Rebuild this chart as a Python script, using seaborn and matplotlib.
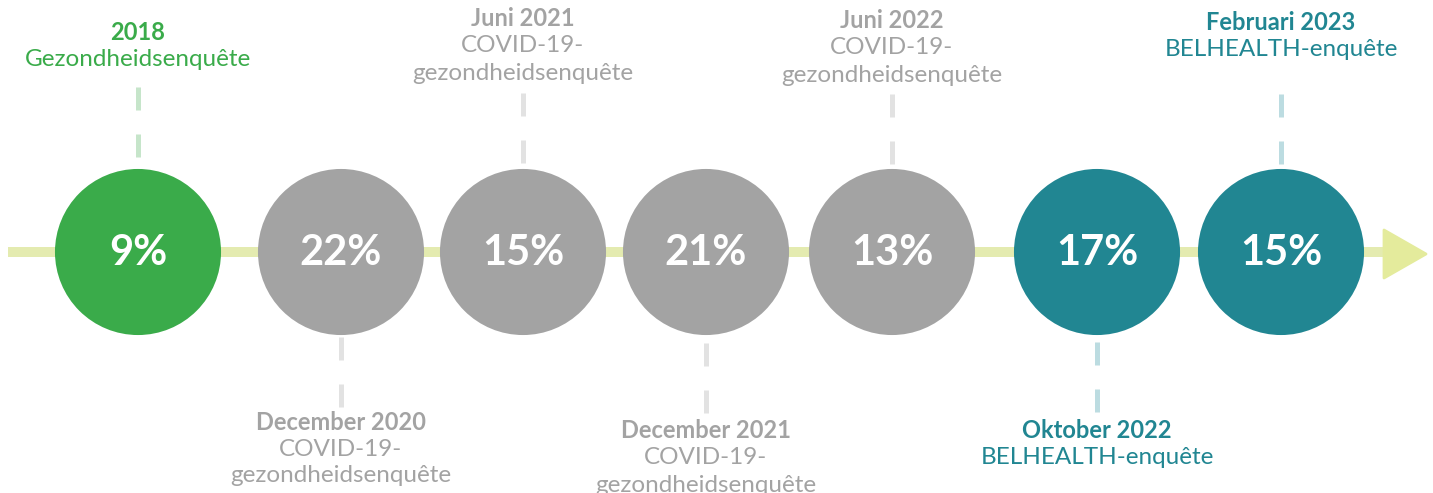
import pandas as pd
import numpy as np
import seaborn as sns
import matplotlib.pyplot as plt
from matplotlib.patches import Polygon

# gegevens
datums = ["2018", "December 2020", "Juni 2021", "December 2021", "Juni 2022", "Oktober 2022", "Februari 2023"]
enquetes = ["Gezondheidsenquête",
            "COVID-19-\ngezondheidsenquête",
            "COVID-19-\ngezondheidsenquête",
            "COVID-19-\ngezondheidsenquête",
            "COVID-19-\ngezondheidsenquête",
            "BELHEALTH-enquête",
            "BELHEALTH-enquête"]
percentages = [9, 22, 15, 21, 13, 17, 15]
groepen = ["HIS", "COVID", "COVID", "COVID", "COVID", "BELHEALTH", "BELHEALTH"]

# layout (pixels)
x_pos = [138, 341, 523, 706, 892, 1097, 1281]
kant = ["boven", "onder", "boven", "onder", "boven", "onder", "boven"]
tekst_y = [32, 422, 19, 431, 21, 431, 22]
streep_y = [157, 337, 163, 343, 164, 342, 164]
lijn_y = 252

kleuren = {"HIS": "#3aab4a", "COVID": "#a3a3a3", "BELHEALTH": "#218692"}
licht = {"HIS": "#c6e5ca", "COVID": "#e2e2e2", "BELHEALTH": "#bcdce1"}

sns.set_style("white")
plt.rcParams['font.family'] = ['Lato', 'DejaVu Sans']

df = pd.DataFrame({"x": x_pos, "y": [lijn_y] * len(x_pos), "groep": groepen,
                   "pct": percentages})

fig = plt.figure(figsize=(14.33, 4.93), dpi=100)
ax = fig.add_axes([0, 0, 1, 1])

# tijdlijn + pijl
ax.plot([8, 1385], [lijn_y, lijn_y], color="#e4ebb0", lw=7.2, solid_capstyle="butt", zorder=1)
ax.add_patch(Polygon([[1384, 230], [1426, 254], [1384, 278]], closed=True,
                     facecolor="#e4eb9c", edgecolor="#e4eb9c", lw=2, joinstyle="round", zorder=1))

# cirkels
sns.scatterplot(data=df, x="x", y="y", hue="groep", palette=kleuren, s=14300,
                linewidth=0, legend=False, ax=ax, zorder=3)

for i, row in df.iterrows():
    ax.text(row["x"], lijn_y + 1, f"{row['pct']}%", color="white", fontsize=30,
            fontweight="bold", ha="center", va="center", zorder=4)

    g = row["groep"]
    # stippellijn
    if kant[i] == "boven":
        ys = [streep_y[i], streep_y[i] - 70]
    else:
        ys = [streep_y[i], streep_y[i] + 70]
    ax.plot([row["x"], row["x"]], ys, color=licht[g], lw=3.6,
            linestyle=(0, (4.6, 4.8)), dash_capstyle="butt", zorder=2)

    # labels
    ty = tekst_y[i]
    ax.text(row["x"], ty, datums[i], color=kleuren[g], fontsize=17,
            fontweight="bold", ha="center", va="center")
    for j, regel in enumerate(enquetes[i].split("\n")):
        ax.text(row["x"], ty + 27 * (j + 1), regel, color=kleuren[g], fontsize=17.5,
                ha="center", va="center")

ax.set_xlim(0, 1433)
ax.set_ylim(493, 0)
ax.axis("off")

plt.savefig("out.png", dpi=100)
